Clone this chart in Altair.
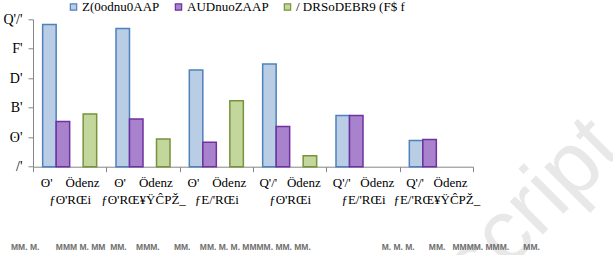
import json
import altair as alt
import pandas as pd

NB = "\u00a0"

# ---- data ----
categories = [
    "ʘ'" + NB * 4 + "Ödenz|ƒʘ'RŒi",
    "ʘ'" + NB * 4 + "Ödenz|ƒʘ'RŒ¥ŸĈPŽ_",
    "ʘ'" + NB * 4 + "Ödenz|ƒE/'RŒi",
    "Q'/'" + NB * 3 + "Ödenz|ƒʘ'RŒi",
    "Q'/'" + NB * 3 + "Ödenz|ƒE/'RŒi",
    "Q'/'" + NB * 3 + "Ödenz|ƒE/'RŒ¥ŸĈPŽ_",
]
series = ["Z(0odnu0AAP", "AUDnuoZAAP", "/ DRSoDEBR9 (F$  f"]
blue_vals = [96.4, 93.7, 65.6, 69.6, 34.7, 17.7]
purple_vals = [30.6, 32.4, 16.6, 27.2, 34.7, 18.4]
green_vals = [35.8, 18.8, 44.7, 7.5, None, None]
y_ticks = [0, 20, 40, 60, 80, 100]
y_tick_labels = ["/'", "ʘ'", "B'", "D'", "F'", "Q'/'"]
fills = ["#B9CDE5", "#A882CC", "#C3D69B"]
strokes = ["#4F81BD", "#7030A0", "#77933C"]
slot_order = [series[0], series[1], "·", series[2]]
footer_text = ("MM." + NB + "M." + NB * 7 + "MMM" + NB + "M." + NB + "MM" + NB * 2 + "MM." + NB * 4 + "MMM." + NB * 6
               + "MM." + NB * 4 + "MM." + NB + "M." + NB + "M." + NB + "MMMM." + NB + "MM." + NB + "MM." + NB * 30
               + "M." + NB + "M." + NB + "M." + NB * 6 + "MM." + NB * 3 + "MMMM." + NB + "MMM." + NB * 6 + "MM.")
watermark = "Manuscript"

rows = []
for s, vals in zip(series, [blue_vals, purple_vals, green_vals]):
    for c, v in zip(categories, vals):
        if v is not None:
            rows.append({"cat": c, "series": s, "value": v})
df = pd.DataFrame(rows)

FONT = "Liberation Serif"

legend_cfg = dict(title=None, orient="none", legendX=34, legendY=-19,
                  direction="horizontal", symbolType="square",
                  symbolSize=40, symbolStrokeWidth=1.2,
                  labelFont=FONT, labelFontSize=13, labelColor="#000",
                  columnPadding=12, labelOffset=2)

bars = alt.Chart(df).mark_bar(strokeWidth=1.5).encode(
    x=alt.X("cat:N", sort=categories,
            scale=alt.Scale(paddingInner=0, paddingOuter=0),
            axis=alt.Axis(title=None, labelAngle=0, tickBand="extent",
                          labelExpr="split(datum.label, '|')",
                          labelLineHeight=17, labelPadding=5,
                          labelFont=FONT, labelFontSize=13, labelColor="#000",
                          domainColor="#868686", tickColor="#868686",
                          tickSize=5, labelBound=False)),
    xOffset=alt.XOffset("series:N",
                        scale=alt.Scale(domain=slot_order, paddingInner=0, paddingOuter=0.715)),
    y=alt.Y("value:Q",
            scale=alt.Scale(domain=[0, 100], nice=False),
            axis=alt.Axis(title=None, values=y_ticks, grid=False,
                          labelExpr=json.dumps(y_tick_labels) + "[indexof(" + json.dumps(y_ticks) + ", datum.value)]",
                          labelFont=FONT, labelFontSize=14, labelColor="#000",
                          domainColor="#868686", tickColor="#868686",
                          tickSize=5, labelPadding=6)),
    fill=alt.Fill("series:N", scale=alt.Scale(domain=series, range=fills),
                  legend=alt.Legend(**legend_cfg)),
    stroke=alt.Stroke("series:N", scale=alt.Scale(domain=series, range=strokes),
                      legend=alt.Legend(**legend_cfg)),
)

wm = alt.Chart(pd.DataFrame({"t": [watermark]})).mark_text(
    angle=315, align="right", baseline="alphabetic", fontSize=88,
    font="Liberation Sans", color="#E8E8E8"
).encode(x=alt.value(592), y=alt.value(133), text="t:N")

foot = alt.Chart(pd.DataFrame({"t": [footer_text]})).mark_text(
    align="left", baseline="middle", fontSize=8.5, fontWeight="bold",
    font="Liberation Sans", color="#707070"
).encode(x=alt.value(-22), y=alt.value(228), text="t:N")

chart = alt.layer(wm, bars, foot).properties(
    width=440, height=147.4,
    padding={"left": 33, "top": 19.3, "right": 140, "bottom": 88.3},
    autosize="none",
).configure_view(stroke=None)

chart.save("out.html", embed_options={"renderer": "svg", "actions": False})
